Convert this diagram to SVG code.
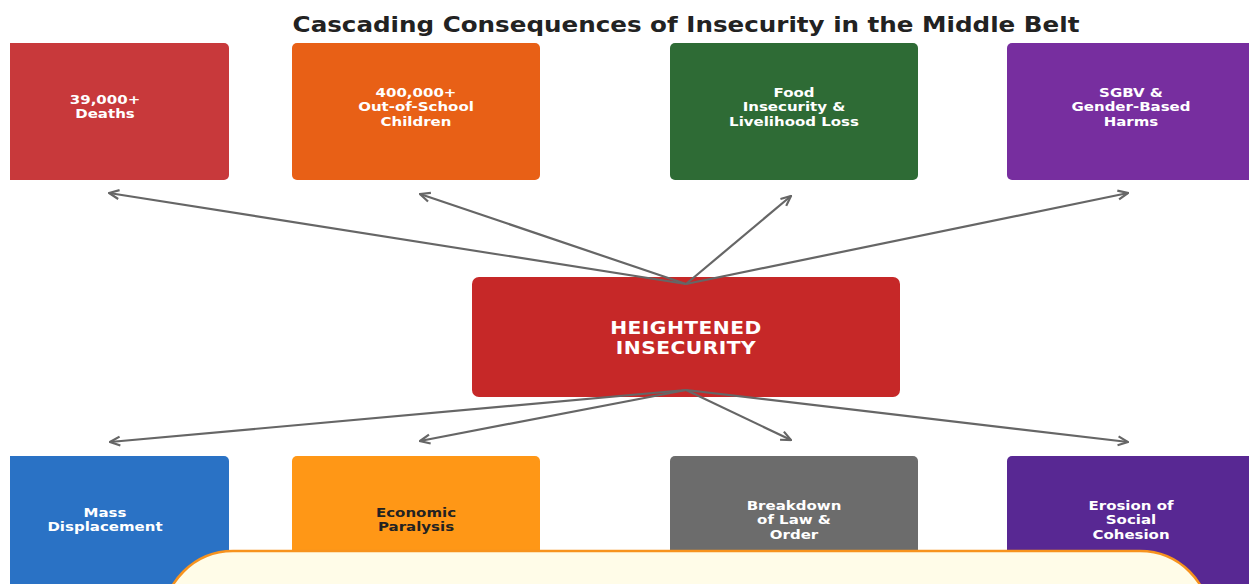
<svg xmlns="http://www.w3.org/2000/svg" width="1249" height="584" viewBox="0 0 1249 584">
<style>
.t{font-family:"DejaVu Sans","Liberation Sans",sans-serif;font-weight:bold;font-size:12.5px;fill:#fff;text-anchor:middle}
.dk{fill:#222}
.title{font-family:"DejaVu Sans","Liberation Sans",sans-serif;font-weight:bold;font-size:20.5px;fill:#222;text-anchor:middle}
.core{font-family:"DejaVu Sans","Liberation Sans",sans-serif;font-weight:bold;font-size:17px;fill:#fff;text-anchor:middle;letter-spacing:0.4px}
.c{stroke:#666;stroke-width:2.2;fill:none;marker-end:url(#ah)}
</style>
<defs>
<marker id="ah" viewBox="0 0 12 12" refX="11" refY="6" markerWidth="12" markerHeight="12" markerUnits="userSpaceOnUse" orient="auto">
<path d="M1,1.5 L11,6 L1,10.5" fill="none" stroke="#666" stroke-width="2.2" stroke-linejoin="miter"/>
</marker>
<clipPath id="cl"><rect x="10" y="0" width="1239" height="584"/></clipPath>
</defs>
<rect width="1249" height="584" fill="#fff"/>
<g transform="translate(686 0) scale(1.2 1)"><text class="title" x="0" y="32">Cascading Consequences of Insecurity in the Middle Belt</text></g>
<g clip-path="url(#cl)">
<g id="n-deaths"><rect x="-19" y="43" width="248" height="137" rx="5" fill="#C8393B"/><g transform="translate(105 0) scale(1.2 1)"><text class="t" x="0" y="104">39,000+</text><text class="t" x="0" y="118">Deaths</text></g></g>
<g id="n-school"><rect x="292" y="43" width="248" height="137" rx="5" fill="#E86016"/><g transform="translate(416 0) scale(1.2 1)"><text class="t" x="0" y="97">400,000+</text><text class="t" x="0" y="111.5">Out-of-School</text><text class="t" x="0" y="126">Children</text></g></g>
<g id="n-food"><rect x="670" y="43" width="248" height="137" rx="5" fill="#2E6B35"/><g transform="translate(794 0) scale(1.2 1)"><text class="t" x="0" y="97">Food</text><text class="t" x="0" y="111.5">Insecurity &amp;</text><text class="t" x="0" y="126">Livelihood Loss</text></g></g>
<g id="n-sgbv"><rect x="1007" y="43" width="248" height="137" rx="5" fill="#772E9F"/><g transform="translate(1131 0) scale(1.2 1)"><text class="t" x="0" y="97">SGBV &amp;</text><text class="t" x="0" y="111.5">Gender-Based</text><text class="t" x="0" y="126">Harms</text></g></g>
<g id="n-core"><rect x="472" y="277" width="428" height="120" rx="7" fill="#C62828"/><g transform="translate(686 0) scale(1.19 1)"><text class="core" x="0" y="334">HEIGHTENED</text><text class="core" x="0" y="354">INSECURITY</text></g></g>
<g id="n-displacement"><rect x="-19" y="456" width="248" height="137" rx="5" fill="#2A72C5"/><g transform="translate(105 0) scale(1.2 1)"><text class="t" x="0" y="517">Mass</text><text class="t" x="0" y="531">Displacement</text></g></g>
<g id="n-economic"><rect x="292" y="456" width="248" height="137" rx="5" fill="#FF9716"/><g transform="translate(416 0) scale(1.2 1)"><text class="t dk" x="0" y="517">Economic</text><text class="t dk" x="0" y="531">Paralysis</text></g></g>
<g id="n-law"><rect x="670" y="456" width="248" height="137" rx="5" fill="#6C6C6C"/><g transform="translate(794 0) scale(1.2 1)"><text class="t" x="0" y="510">Breakdown</text><text class="t" x="0" y="524.5">of Law &amp;</text><text class="t" x="0" y="539">Order</text></g></g>
<g id="n-cohesion"><rect x="1007" y="456" width="248" height="137" rx="5" fill="#582893"/><g transform="translate(1131 0) scale(1.2 1)"><text class="t" x="0" y="510">Erosion of</text><text class="t" x="0" y="524.5">Social</text><text class="t" x="0" y="539">Cohesion</text></g></g>
</g>
<g id="connectors">
<line class="c" x1="686" y1="284" x2="109" y2="193"/>
<line class="c" x1="686" y1="284" x2="420" y2="194"/>
<line class="c" x1="686" y1="284" x2="791" y2="196"/>
<line class="c" x1="686" y1="284" x2="1128" y2="193"/>
<line class="c" x1="686" y1="390" x2="110" y2="442"/>
<line class="c" x1="686" y1="390" x2="420" y2="441"/>
<line class="c" x1="686" y1="390" x2="791" y2="440"/>
<line class="c" x1="686" y1="390" x2="1128" y2="442"/>
</g>
<g id="n-panel"><rect x="163" y="551" width="1047" height="200" rx="70" fill="#FFFCE8" stroke="#F7931E" stroke-width="2.5"/></g>
</svg>
